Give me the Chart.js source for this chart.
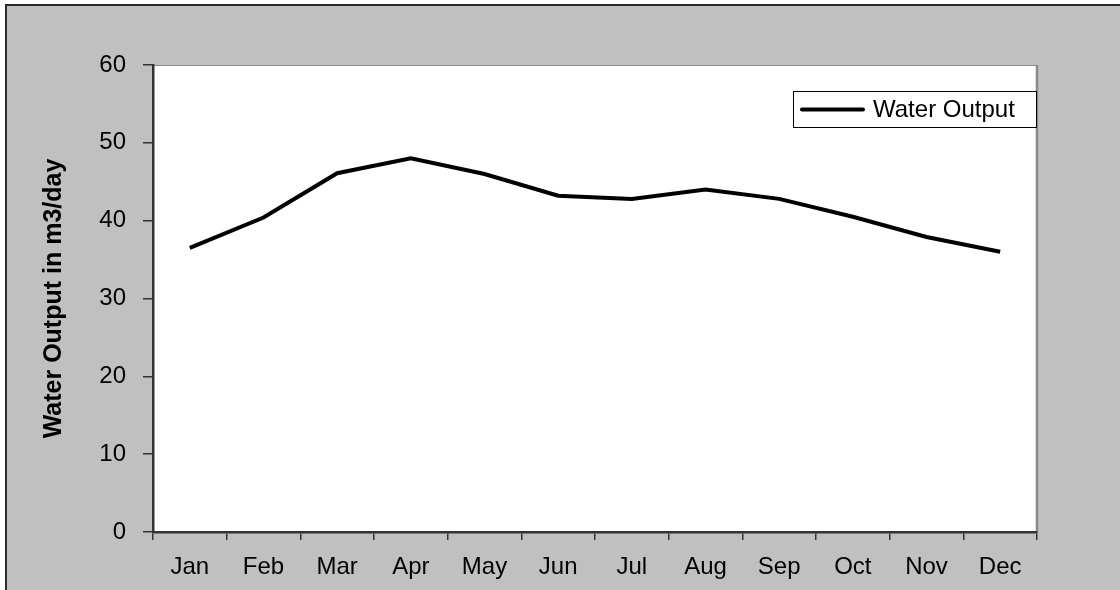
<!DOCTYPE html>
<html>
<head>
<meta charset="utf-8">
<script src="https://cdn.jsdelivr.net/npm/chart.js@4/dist/chart.umd.min.js"></script>
<style>
  html, body { margin: 0; padding: 0; background: #ffffff; overflow: hidden; }
  #frame {
    position: absolute; left: 5px; top: 4px;
    width: 1200px; height: 700px;
    background: #c0c0c0;
    border-top: 2px solid #2b2b2b;
    border-left: 2px solid #2b2b2b;
  }
  #wrap { position: absolute; left: 0; top: 0; width: 1120px; height: 590px; }
</style>
</head>
<body>
<div id="frame"></div>
<div id="wrap"><canvas id="chart" width="1120" height="590"></canvas></div>
<script>
// Monthly water output, m3/day
const months = ['Jan', 'Feb', 'Mar', 'Apr', 'May', 'Jun', 'Jul', 'Aug', 'Sep', 'Oct', 'Nov', 'Dec'];
const waterOutput = [36.5, 40.4, 46.1, 48.0, 46.0, 43.2, 42.8, 44.0, 42.8, 40.5, 37.9, 36.0];
const seriesName = 'Water Output';
const axisTitle = 'Water Output in m3/day';
const yMin = 0, yMax = 60, yStep = 10;

const FONT = '"Liberation Sans", Arial, sans-serif';

// White plot area with a grey frame on the top and right
const plotBackground = {
  id: 'plotBackground',
  beforeDraw(chart) {
    const { ctx, chartArea: a } = chart;
    ctx.save();
    ctx.fillStyle = '#ffffff';
    ctx.fillRect(a.left, a.top, a.right - a.left, a.bottom - a.top);
    ctx.strokeStyle = '#8a8a8a';
    ctx.lineWidth = 1;
    ctx.beginPath();
    ctx.moveTo(a.left, a.top + 0.5);
    ctx.lineTo(a.right, a.top + 0.5);
    ctx.stroke();
    ctx.lineWidth = 2.5;
    ctx.beginPath();
    ctx.moveTo(a.right, a.top);
    ctx.lineTo(a.right, a.bottom);
    ctx.stroke();
    ctx.restore();
  }
};

// Boxed legend in the top-right corner of the plot area
const boxedLegend = {
  id: 'boxedLegend',
  afterDraw(chart) {
    const { ctx, chartArea: a } = chart;
    const ds = chart.data.datasets[0];
    const right = a.right, left = right - 244;
    const top = a.top + 26, h = 37;
    ctx.save();
    ctx.fillStyle = '#ffffff';
    ctx.fillRect(left, top, right - left, h);
    ctx.strokeStyle = '#000000';
    ctx.lineWidth = 1;
    ctx.strokeRect(left + 0.5, top + 0.5, right - left - 1, h - 1);
    const cy = top + h / 2;
    ctx.strokeStyle = ds.borderColor;
    ctx.lineWidth = ds.borderWidth;
    ctx.lineCap = 'round';
    ctx.beginPath();
    ctx.moveTo(left + 9, cy);
    ctx.lineTo(left + 70, cy);
    ctx.stroke();
    ctx.fillStyle = '#000000';
    ctx.font = '24px ' + FONT;
    ctx.textBaseline = 'middle';
    ctx.textAlign = 'left';
    ctx.fillText(ds.label, left + 80, cy + 1);
    ctx.restore();
  }
};

new Chart(document.getElementById('chart'), {
  type: 'line',
  data: {
    labels: months,
    datasets: [{
      label: seriesName,
      data: waterOutput,
      borderColor: '#000000',
      borderWidth: 4,
      pointRadius: 0,
      pointHoverRadius: 0,
      tension: 0,
      fill: false
    }]
  },
  options: {
    responsive: false,
    animation: false,
    devicePixelRatio: 1,
    layout: { padding: { left: 0, top: 65, right: 83, bottom: 0 } },
    plugins: {
      legend: { display: false },
      tooltip: { enabled: false }
    },
    scales: {
      x: {
        type: 'category',
        offset: true,
        afterFit(scale) { scale.height = 58; },
        grid: {
          offset: true,
          drawOnChartArea: false,
          drawTicks: true,
          tickLength: 8,
          color: '#333333',
          lineWidth: 1.5
        },
        border: { display: true, color: '#333333', width: 2.5 },
        ticks: {
          color: '#000000',
          padding: 13,
          maxRotation: 0,
          autoSkip: false,
          font: { family: FONT, size: 24 }
        }
      },
      y: {
        min: yMin,
        max: yMax,
        afterFit(scale) { scale.width = 153; },
        grid: {
          drawOnChartArea: false,
          drawTicks: true,
          tickLength: 10,
          color: '#333333',
          lineWidth: 1.5
        },
        border: { display: true, color: '#333333', width: 2.5 },
        ticks: {
          stepSize: yStep,
          color: '#000000',
          padding: 17,
          font: { family: FONT, size: 24 }
        },
        title: {
          display: true,
          text: axisTitle,
          color: '#000000',
          padding: { top: 39, bottom: 0 },
          font: { family: FONT, size: 25, weight: 'bold' }
        }
      }
    }
  },
  plugins: [plotBackground, boxedLegend]
});
</script>
</body>
</html>
